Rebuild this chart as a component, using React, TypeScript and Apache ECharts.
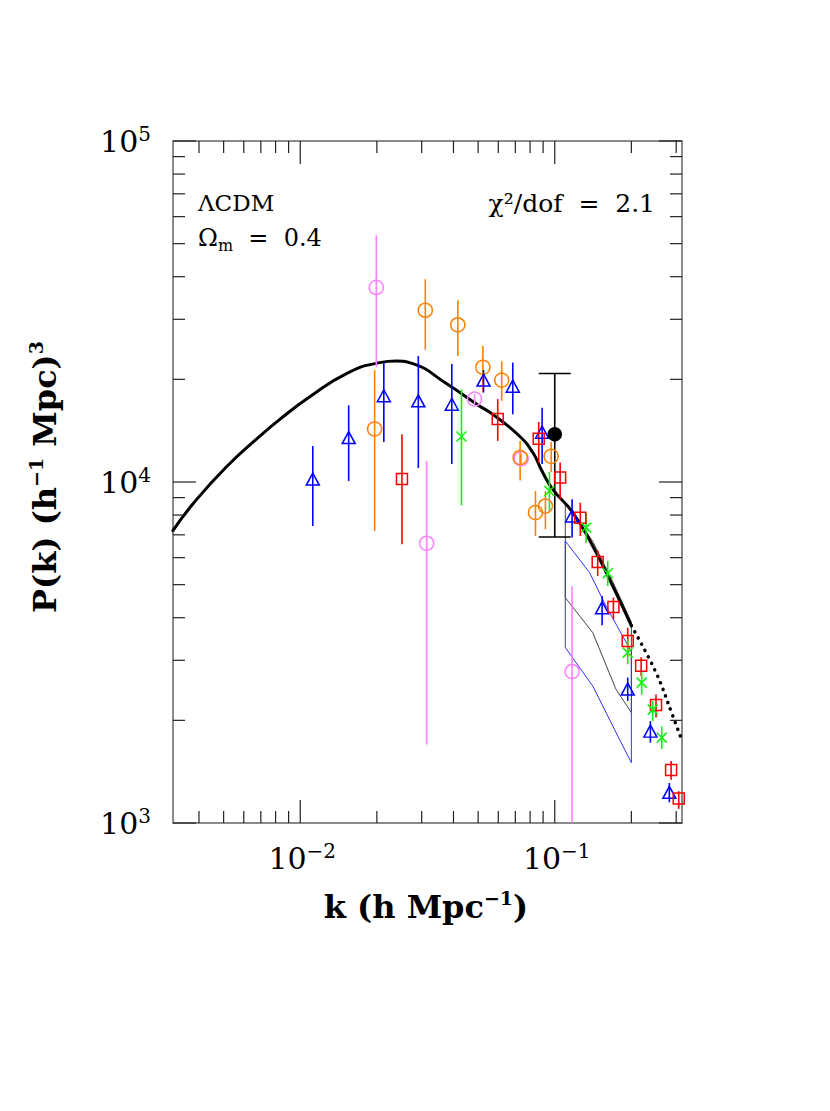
import React, { useEffect, useRef } from "react";
import * as echarts from "echarts";

// ---- axis ranges ----
const K_MIN = Math.pow(10, -2.5);
const K_MAX = Math.pow(10, -0.5);
const P_MIN = 1e3;
const P_MAX = 1e5;

// ---- ticks ----
const xMajorTicks = [0.01, 0.1];
const xMinorTicks = [0.004, 0.005, 0.006, 0.007, 0.008, 0.009, 0.02, 0.03, 0.04, 0.05, 0.06, 0.07, 0.08, 0.09, 0.2, 0.3];
const yMajorTicks = [1e3, 1e4, 1e5];
const yMinorTicks = [2e3, 3e3, 4e3, 5e3, 6e3, 7e3, 8e3, 9e3, 2e4, 3e4, 4e4, 5e4, 6e4, 7e4, 8e4, 9e4];
const xTickExponents = ["\u22122", "\u22121"];
const yTickExponents = ["3", "4", "5"];

// ---- model curve (ΛCDM, Ωm = 0.4) ----
const modelK = [0.00316, 0.00379, 0.00512, 0.00692, 0.00829, 0.0109, 0.0152, 0.0205, 0.0238, 0.0277, 0.0375, 0.0506, 0.0571, 0.0726, 0.082, 0.0897, 0.0982, 0.1177, 0.141, 0.169, 0.2];
const modelP = [7200, 8630, 11070, 13610, 15240, 17780, 20800, 22390, 22620, 22230, 19450, 16710, 15790, 13640, 12200, 10660, 9520, 8135, 6492, 4955, 3790];
const extrapK = [0.2, 0.25, 0.291, 0.316];
const extrapP = [3790, 2760, 2060, 1745];

// ---- window-convolved model bands ----
const bandBlackK = [0.11, 0.141, 0.169, 0.2, 0.2, 0.174, 0.141, 0.11, 0.11];
const bandBlackP = [8720, 6700, 5100, 3880, 2108, 2467, 3617, 4581, 8720];
const bandBlueK = [0.11, 0.137, 0.159, 0.2, 0.2, 0.1795, 0.141, 0.11, 0.11];
const bandBlueP = [6714, 5424, 4328, 3180, 1503, 1760, 2523, 3269, 6714];

// ---- data sets ----
const blueK = [0.0112, 0.0155, 0.0213, 0.0291, 0.0394, 0.0525, 0.0684, 0.0892, 0.117, 0.1535, 0.1935, 0.2376, 0.282];
const blueP = [10200, 13500, 17900, 17300, 16900, 19900, 19100, 14000, 7950, 4280, 2470, 1860, 1230];
const blueLo = [7430, 10070, 13100, 11000, 11300, 18300, 15800, 11300, 6870, 3800, 2280, 1720, 1150];
const blueHi = [12750, 16790, 22400, 23400, 22200, 21300, 22400, 16500, 8900, 4630, 2670, 1990, 1310];

const orangeK = [0.0196, 0.031, 0.0416, 0.0522, 0.0619, 0.0731, 0.084, 0.0919, 0.0968];
const orangeP = [14300, 31900, 28900, 21700, 19900, 11800, 8140, 8500, 11900];
const orangeLo = [7180, 24400, 23400, 18300, 17300, 10100, 6940, 7270, 10700];
const orangeHi = [21300, 39300, 34100, 25100, 22600, 13200, 9410, 9410, 13100];

const violetK = [0.0199, 0.0314, 0.0484, 0.0738, 0.117];
const violetP = [37200, 6610, 17500, 11700, 2780];
const violetLo = [21700, 1700, 16900, 11300, 600];
const violetHi = [52900, 11500, 18100, 12100, 4950];

const redK = [0.0251, 0.0597, 0.0865, 0.105, 0.126, 0.1475, 0.17, 0.1935, 0.2185, 0.25, 0.2865, 0.307];
const redP = [10200, 15300, 13400, 10300, 7860, 5830, 4300, 3420, 2890, 2220, 1430, 1180];
const redLo = [6570, 13200, 11400, 8900, 6940, 5300, 3960, 3090, 2700, 2040, 1340, 1100];
const redHi = [13800, 17500, 15000, 11400, 8700, 6300, 4580, 3740, 3060, 2380, 1520, 1240];

const greenK = [0.043, 0.0953, 0.1328, 0.1615, 0.1935, 0.2196, 0.2426, 0.2633];
const greenP = [13600, 9410, 7350, 5400, 3160, 2580, 2150, 1780];
const greenLo = [8550, 8140, 6640, 4960, 2920, 2380, 1990, 1650];
const greenHi = [18700, 10700, 8140, 5870, 3460, 2790, 2280, 1920];

const refK = [0.1];
const refP = [13800];
const refLo = [6900];
const refHi = [20800];

const FONT = '"DejaVu Serif", "Liberation Serif", serif';

export default function App() {
  const ref = useRef<HTMLDivElement>(null);
  useEffect(() => {
    const chart = echarts.init(ref.current!, null, { renderer: "svg" });

    const errSeries = (K: number[], Lo: number[], Hi: number[], color: string, cap = 0) => ({
      type: "custom",
      clip: true,
      silent: true,
      z: 3,
      data: K.map((k, i) => [k, Lo[i], Hi[i]]),
      encode: { x: 0, y: [1, 2] },
      renderItem: (params: any, api: any) => {
        const a = api.coord([api.value(0), api.value(1)]);
        const b = api.coord([api.value(0), api.value(2)]);
        const st = { stroke: color, lineWidth: 1.6 };
        const children: any[] = [{ type: "line", shape: { x1: a[0], y1: a[1], x2: b[0], y2: b[1] }, style: st }];
        if (cap > 0) {
          children.push({ type: "line", shape: { x1: a[0] - cap, y1: a[1], x2: a[0] + cap, y2: a[1] }, style: st });
          children.push({ type: "line", shape: { x1: b[0] - cap, y1: b[1], x2: b[0] + cap, y2: b[1] }, style: st });
        }
        return { type: "group", children };
      },
    });

    const markSeries = (K: number[], P: number[], symbol: string, size: any, color: string, fill = "rgba(0,0,0,0)") => ({
      type: "scatter",
      silent: true,
      z: 4,
      symbol,
      symbolSize: size,
      data: K.map((k, i) => [k, P[i]]),
      itemStyle: { color: fill, borderColor: color, borderWidth: 1.5, opacity: 1 },
    });

    const lineSeries = (K: number[], P: number[], color: string, width: number, extra: any = {}, smooth: any = false) => ({
      type: "line",
      silent: true,
      symbol: "none",
      smooth,
      data: K.map((k, i) => [k, P[i]]),
      lineStyle: { color, width, ...extra },
      z: 2,
    });

    const xTickSeries = {
      type: "custom",
      silent: true,
      z: 10,
      data: [...xMajorTicks.map((k) => [k, P_MIN, 1]), ...xMinorTicks.map((k) => [k, P_MIN, 0])],
      encode: { x: 0, y: 1 },
      renderItem: (params: any, api: any) => {
        const cs = params.coordSys;
        const px = api.coord([api.value(0), P_MIN])[0];
        const len = api.value(2) ? 23 : 12;
        const bottom = cs.y + cs.height;
        const st = { stroke: "#222", lineWidth: 1.2 };
        return {
          type: "group",
          children: [
            { type: "line", shape: { x1: px, y1: bottom, x2: px, y2: bottom - len }, style: st },
            { type: "line", shape: { x1: px, y1: cs.y, x2: px, y2: cs.y + len }, style: st },
          ],
        };
      },
    };

    const yTickSeries = {
      type: "custom",
      silent: true,
      z: 10,
      data: [...yMajorTicks.map((p) => [K_MIN, p, 1]), ...yMinorTicks.map((p) => [K_MIN, p, 0])],
      encode: { x: 0, y: 1 },
      renderItem: (params: any, api: any) => {
        const cs = params.coordSys;
        const py = api.coord([K_MIN, api.value(1)])[1];
        const len = api.value(2) ? 23 : 12;
        const right = cs.x + cs.width;
        const st = { stroke: "#222", lineWidth: 1.2 };
        return {
          type: "group",
          children: [
            { type: "line", shape: { x1: cs.x, y1: py, x2: cs.x + len, y2: py }, style: st },
            { type: "line", shape: { x1: right, y1: py, x2: right - len, y2: py }, style: st },
          ],
        };
      },
    };

    const richLabel = {
      b: { fontSize: 30, fontFamily: FONT, fill: "#000", lineHeight: 34 },
      s: { fontSize: 20, fontFamily: FONT, fill: "#000", verticalAlign: "top", lineHeight: 22 },
    };

    const xLabelSeries = {
      type: "custom",
      silent: true,
      z: 10,
      data: xMajorTicks.map((k) => [k, P_MIN]),
      encode: { x: 0, y: 1 },
      renderItem: (params: any, api: any) => {
        const cs = params.coordSys;
        const px = api.coord([api.value(0), P_MIN])[0];
        return {
          type: "text",
          x: px + 2,
          y: cs.y + cs.height + 35,
          style: {
            text: `{b|10}{s|${xTickExponents[params.dataIndex]}}`,
            rich: richLabel,
            align: "center",
            verticalAlign: "middle",
          },
        };
      },
    };

    const yLabelSeries = {
      type: "custom",
      silent: true,
      z: 10,
      data: yMajorTicks.map((p) => [K_MIN, p]),
      encode: { x: 0, y: 1 },
      renderItem: (params: any, api: any) => {
        const cs = params.coordSys;
        const py = api.coord([K_MIN, api.value(1)])[1];
        return {
          type: "text",
          x: cs.x - 22,
          y: py,
          style: {
            text: `{b|10}{s|${yTickExponents[params.dataIndex]}}`,
            rich: richLabel,
            align: "right",
            verticalAlign: "middle",
          },
        };
      },
    };

    const hiddenAxis = {
      axisLine: { show: false },
      axisTick: { show: false },
      axisLabel: { show: false },
      splitLine: { show: false },
      minorTick: { show: false },
    };

    const titleRich = {
      t: { fontSize: 32, fontWeight: "bold", fontFamily: FONT, fill: "#000", lineHeight: 38 },
      s: { fontSize: 19, fontWeight: "bold", fontFamily: FONT, fill: "#000", verticalAlign: "top", lineHeight: 26 },
    };

    const option: any = {
      animation: false,
      backgroundColor: "#fff",
      grid: { left: 173, top: 141, width: 509, height: 682, show: true, borderColor: "#666", borderWidth: 1.5, backgroundColor: "transparent" },
      xAxis: { type: "log", logBase: 10, min: K_MIN, max: K_MAX, ...hiddenAxis },
      yAxis: { type: "log", logBase: 10, min: P_MIN, max: P_MAX, ...hiddenAxis },
      graphic: [
        {
          type: "text",
          x: 198,
          y: 203,
          style: { text: "\u039BCDM", font: `23px ${FONT}`, fill: "#000", align: "left", verticalAlign: "middle" },
        },
        {
          type: "text",
          x: 198,
          y: 238,
          style: {
            text: "{a|\u03A9}{m|m}{a|  =  0.4}",
            rich: {
              a: { fontSize: 24, fontFamily: FONT, fill: "#000", lineHeight: 30 },
              m: { fontSize: 16, fontFamily: FONT, fill: "#000", verticalAlign: "bottom", lineHeight: 22 },
            },
            align: "left",
            verticalAlign: "middle",
          },
        },
        {
          type: "text",
          x: 655,
          y: 203,
          style: { text: "\u03C7\u00B2/dof  =  2.1", font: `25px ${FONT}`, fill: "#000", align: "right", verticalAlign: "middle" },
        },
        {
          type: "text",
          x: 426,
          y: 907,
          style: {
            text: "{t|k (h Mpc}{s|\u22121}{t|)}",
            rich: titleRich,
            align: "center",
            verticalAlign: "middle",
          },
        },
        {
          type: "text",
          x: 45,
          y: 477,
          rotation: Math.PI / 2,
          style: {
            text: "{t|P(k) (h}{s|\u22121}{t| Mpc)}{s|3}",
            rich: titleRich,
            align: "center",
            verticalAlign: "middle",
          },
        },
      ],
      series: [
        lineSeries(bandBlackK, bandBlackP, "#444", 1),
        lineSeries(bandBlueK, bandBlueP, "#3333ff", 1),
        lineSeries(modelK, modelP, "#000", 3, { cap: "round", join: "round" }, 0.5),
        lineSeries(extrapK, extrapP, "#000", 3.5, { type: [0.1, 7], cap: "round" }, 0.4),
        errSeries(violetK, violetLo, violetHi, "#ff7fff"),
        errSeries(orangeK, orangeLo, orangeHi, "#ff8000"),
        errSeries(blueK, blueLo, blueHi, "#0000ff"),
        errSeries(redK, redLo, redHi, "#ff0000"),
        errSeries(greenK, greenLo, greenHi, "#11ee11"),
        errSeries(refK, refLo, refHi, "#000", 16),
        markSeries(violetK, violetP, "circle", 14, "#ff7fff"),
        markSeries(orangeK, orangeP, "circle", 14, "#ff8000"),
        markSeries(blueK, blueP, "triangle", [13, 12], "#0000ff"),
        markSeries(redK, redP, "rect", 11, "#ff0000"),
        markSeries(greenK, greenP, "path://M0,0L10,10M10,0L0,10", 10, "#11ee11"),
        markSeries(refK, refP, "circle", 13, "#000", "#000"),
        xTickSeries,
        yTickSeries,
        xLabelSeries,
        yLabelSeries,
      ],
    };
    chart.setOption(option);
    return () => chart.dispose();
  }, []);
  return <div ref={ref} style={{ position: "fixed", left: 0, top: 0, width: 830, height: 1111, background: "#fff" }} />;
}
